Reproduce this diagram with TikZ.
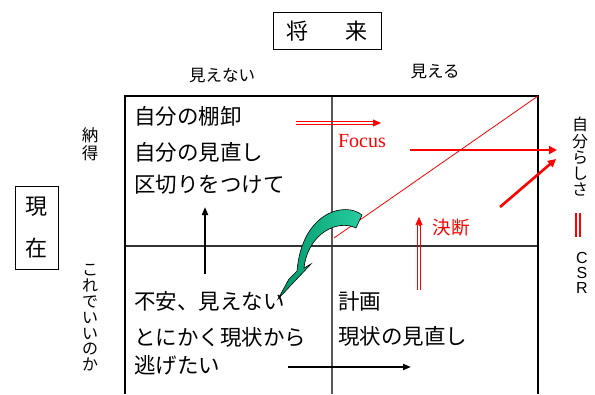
\documentclass[tikz,border=0pt]{standalone}
\usepackage{fontspec}
\setmainfont{Liberation Sans}
\newfontfamily\jp{Noto Sans CJK JP}
\newfontfamily\serifrm{Liberation Serif}
\usetikzlibrary{arrows.meta}
\begin{document}
\begin{tikzpicture}[x=1pt,y=-1pt,
  big/.style={font=\jp\fontsize{21.5}{26}\selectfont, anchor=west, inner sep=0pt},
  lab/.style={font=\jp\fontsize{16.5}{18}\selectfont, inner sep=0pt},
  vert/.style={font=\jp\fontsize{16}{16}\selectfont, align=center, inner sep=0pt},
  framel/.style={line width=1.8pt},
  midl/.style={line width=1.2pt, draw=black!65},
  thinred/.style={draw=red, line width=0.7pt},
  redtip/.style={draw=red, fill=red, line width=0.6pt, -{Triangle[length=8pt,width=7pt]}},
  thickred/.style={draw=red, line width=2.6pt, -{Triangle[length=8pt,width=8pt]}},
  blackarrow/.style={line width=1.8pt, -{Triangle[length=8pt,width=6pt]}},
  redtext/.style={text=red, inner sep=0pt}
]
\useasboundingbox (0,0) rectangle (595,394);

% frame coordinates
\coordinate (TL) at (125,96);
\coordinate (TR) at (538,96);
\coordinate (BL) at (125,394);
\coordinate (BR) at (538,394);
\coordinate (MT) at (332,96);
\coordinate (MB) at (332,394);
\coordinate (ML) at (125,246);
\coordinate (MR) at (538,246);

\draw[midl] (MT) -- (MB);
\draw[midl, draw=black!80] (ML) -- (MR);
\draw[framel] (BL) -- (TL) -- (TR) -- (BR);

% headings
\node[draw, line width=0.8pt, minimum width=108pt, minimum height=37pt, inner sep=0pt,
      font=\jp\fontsize{22}{26}\selectfont] (future) at (327,31) {将\hspace{38pt}来};
\node[draw, line width=0.8pt, minimum width=43pt, minimum height=83pt, inner sep=0pt,
      align=center, font=\jp\fontsize{22}{42}\selectfont] (present) at (36.5,228) {現\\在};
\node[lab] (unseen) at (222,76) {見えない};
\node[lab] (seen) at (435,72) {見える};
\node[vert, font=\jp\fontsize{16.5}{18.5}\selectfont] (nattoku) at (90,144) {納\\得};
\node[vert, font=\jp\fontsize{16}{15.8}\selectfont] (koredeii) at (90,318) {こ\\れ\\で\\い\\い\\の\\か};
\node[vert, font=\jp\fontsize{16}{16.25}\selectfont] (jibun) at (580,157) {自\\分\\ら\\し\\さ};
\node[align=center, inner sep=0pt, font=\fontsize{16}{15}\selectfont] (csr) at (582,273) {C\\S\\R};
\coordinate (eqA1) at (575.5,213); \coordinate (eqA2) at (575.5,237);
\coordinate (eqB1) at (580,213); \coordinate (eqB2) at (580,237);
\draw[red, line width=2pt] (eqA1) -- (eqA2) (eqB1) -- (eqB2);

% quadrant texts
\node[big] (q1a) at (134,116) {自分の棚卸};
\node[big] (q1b) at (134,152) {自分の見直し};
\node[big] (q1c) at (134,185) {区切りをつけて};
\node[big] (q3a) at (134,301) {不安、見えない};
\node[big] (q3b) at (134,337) {とにかく現状から};
\node[big] (q3c) at (134,365) {逃げたい};
\node[big] (q4a) at (338,301) {計画};
\node[big] (q4b) at (338,336) {現状の見直し};

% red labels
\node[redtext, font=\serifrm\fontsize{20}{22}\selectfont] (focus) at (362,141) {Focus};
\node[redtext, font=\jp\fontsize{18.5}{20}\selectfont] (ketsudan) at (451,228) {決断};

% black arrows
\coordinate (upS) at (205,274); \coordinate (upE) at (205,207);
\draw[blackarrow] (upS) -- (upE);
\coordinate (rtS) at (288,367); \coordinate (rtE) at (411,367);
\draw[blackarrow] (rtS) -- (rtE);

% red diagonal line
\coordinate (diagS) at (334,238);
\draw[red, line width=0.8pt] (diagS) -- (TR);

% red double arrows
\coordinate (fcS) at (296,123); \coordinate (fcM) at (374,123); \coordinate (fcE) at (381,123);
\draw[thinred] ([yshift=1.4pt]fcS) -- ([yshift=1.4pt]fcM);
\draw[thinred] ([yshift=-1.4pt]fcS) -- ([yshift=-1.4pt]fcM);
\draw[redtip] (fcM) -- (fcE);
\coordinate (kdS) at (419,290); \coordinate (kdM) at (419,225); \coordinate (kdE) at (419,217);
\draw[thinred] ([xshift=1.4pt]kdS) -- ([xshift=1.4pt]kdM);
\draw[thinred] ([xshift=-1.4pt]kdS) -- ([xshift=-1.4pt]kdM);
\draw[redtip] (kdM) -- (kdE);

% thick red arrows
\coordinate (thS) at (410,150); \coordinate (thE) at (557,150);
\draw[thickred] (thS) -- (thE);
\coordinate (tdS) at (500,207); \coordinate (tdE) at (556,159);
\draw[thickred] (tdS) -- (tdE);

% green curved arrow
\path[draw=black, line width=0.6pt, left color={rgb,255:red,0;green,150;blue,105}, right color={rgb,255:red,40;green,205;blue,160}]
  (362,215) .. controls (345,201) and (302,212) .. (297,271)
  -- (289,279) -- (278,299) -- (311,264) -- (304,268)
  .. controls (308,233) and (338,219) .. (356,228) -- cycle;
\end{tikzpicture}
\end{document}
